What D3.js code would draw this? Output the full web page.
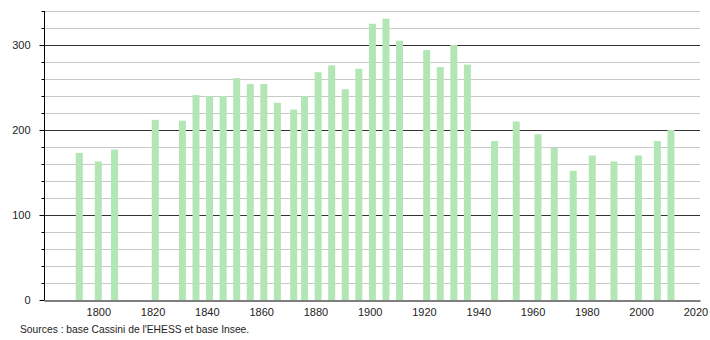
<!DOCTYPE html>
<style>
	body { margin: 0; background: #fff; }
	text { font-family: "Liberation Sans", Arial, sans-serif; }
</style>
<svg width="710" height="340"></svg>
<script src="https://d3js.org/d3.v7.min.js"></script>
<script>

	var years = [1793, 1800, 1806, 1821, 1831, 1836, 1841, 1846, 1851, 1856, 1861, 1866, 1872, 1876, 1881, 1886, 1891, 1896, 1901, 1906, 1911, 1921, 1926, 1931, 1936, 1946, 1954, 1962, 1968, 1975, 1982, 1990, 1999, 2006, 2011];
	var population = [173, 163, 177, 212, 211, 241, 240, 240, 261, 254, 254, 232, 224, 240, 268, 276, 248, 272, 325, 331, 305, 294, 274, 300, 277, 187, 210, 195, 179, 152, 170, 163, 170, 187, 200];
	var xTicks = [1800, 1820, 1840, 1860, 1880, 1900, 1920, 1940, 1960, 1980, 2000, 2020];
	var yTicks = [0, 100, 200, 300];
	var source = "Sources : base Cassini de l'EHESS et base Insee.";

	var svg = d3.select("svg"),
		margin = {top: 11, right: 10, bottom: 40, left: 44},
		width = +svg.attr("width") - margin.left - margin.right,
		height = +svg.attr("height") - margin.top - margin.bottom,
		g = svg.append("g").attr("transform", "translate(" + margin.left + "," + margin.top + ")");

	var x = d3.scaleLinear()
		.domain([1780, 2021.7])
		.range([0, width]);

	var y = d3.scaleLinear()
		.domain([0, 340])
		.range([height, 0]);

	// gridlines: light every 20, dark every 100
	var minor = d3.range(20, 341, 20).filter(function(d) { return d % 100 !== 0; });

	g.append("g")
		.selectAll("line")
		.data(minor)
		.enter().append("line")
		.attr("x1", 0).attr("x2", width)
		.attr("y1", function(d) { return y(d) + 0.5; })
		.attr("y2", function(d) { return y(d) + 0.5; })
		.attr("stroke", "#c8c8c8");

	g.append("g")
		.selectAll("line")
		.data(yTicks.slice(1))
		.enter().append("line")
		.attr("x1", 0).attr("x2", width)
		.attr("y1", function(d) { return y(d) + 0.5; })
		.attr("y2", function(d) { return y(d) + 0.5; })
		.attr("stroke", "#333");

	// bars
	g.append("g")
		.selectAll("rect")
		.data(years)
		.enter().append("rect")
		.attr("x", function(d) { return x(d) - 3.5; })
		.attr("y", function(d, i) { return y(population[i]); })
		.attr("width", 7)
		.attr("height", function(d, i) { return height - y(population[i]); })
		.attr("fill", "#b3e6b5");

	// y axis
	g.append("g")
		.attr("transform", "translate(0.5,0)")
		.call(d3.axisLeft(y).tickValues(yTicks).tickSize(5).tickPadding(9))
		.call(function(a) {
			a.select(".domain").attr("d", "M0," + y(340) + "V" + height).attr("stroke", "#000");
			a.selectAll("text").attr("font-size", 11).attr("fill", "#222");
		});

	g.append("g")
		.attr("transform", "translate(0.5,0)")
		.selectAll("line")
		.data(minor)
		.enter().append("line")
		.attr("x1", -3).attr("x2", 0)
		.attr("y1", function(d) { return y(d) + 0.5; })
		.attr("y2", function(d) { return y(d) + 0.5; })
		.attr("stroke", "#000");

	// x axis
	g.append("g")
		.attr("transform", "translate(0," + (height + 0.5) + ")")
		.call(d3.axisBottom(x).tickValues(xTicks).tickFormat(d3.format("d")).tickSize(0).tickPadding(8))
		.call(function(a) {
			a.select(".domain").attr("stroke", "#000");
			a.selectAll("text").attr("font-size", 11).attr("fill", "#222");
		});

	svg.append("text")
		.attr("x", 20)
		.attr("y", 333)
		.attr("font-size", 10.3)
		.attr("fill", "#222")
		.text(source);

</script>
